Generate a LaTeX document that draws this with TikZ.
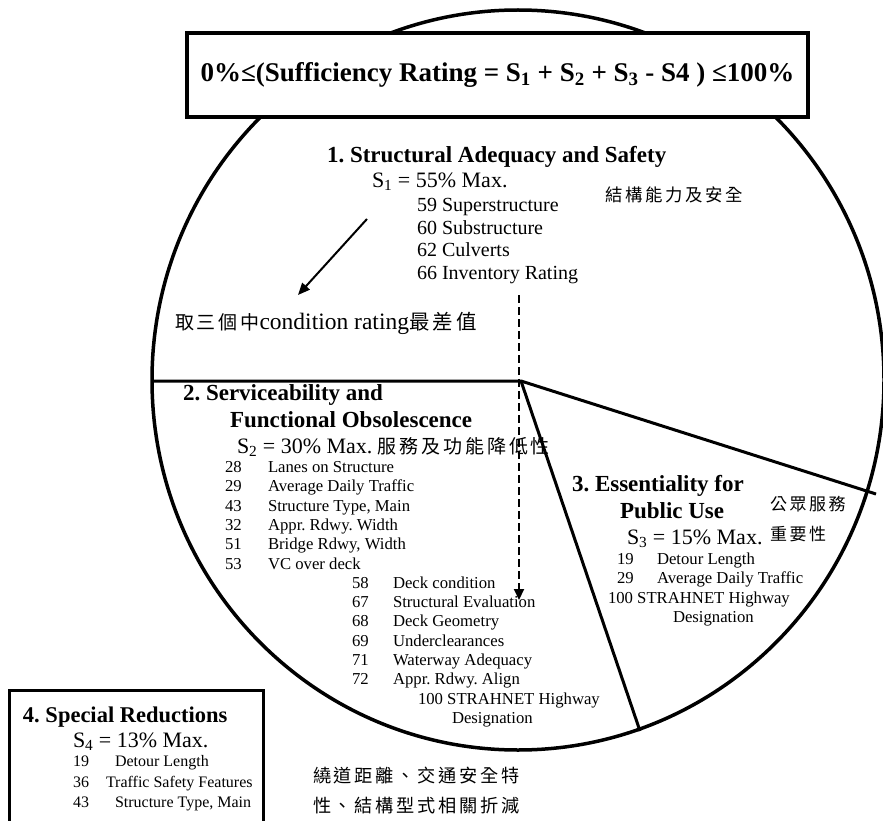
\documentclass[tikz,border=0pt]{standalone}
\usepackage{fontspec}
\setmainfont{Liberation Serif}
\newfontfamily\cjk[LetterSpace=15]{Noto Sans CJK TC}
\usetikzlibrary{arrows.meta}
\newcommand\sbs[1]{\textsubscript{#1}}
\frenchspacing

\begin{document}
\begin{tikzpicture}[x=1pt,y=-1pt,
  lbl/.style={anchor=west,inner sep=0pt,outer sep=0pt,text depth=0pt},
  head/.style={lbl,text height=15.2pt,font=\fontsize{23}{26}\selectfont\bfseries},
  smax/.style={lbl,text height=14.5pt,font=\fontsize{22}{25}\selectfont},
  big/.style={lbl,text height=13.2pt,font=\fontsize{20}{22}\selectfont},
  small/.style={lbl,text height=11pt,font=\fontsize{16.7}{19}\selectfont},
  zh/.style={lbl,text height=13pt,font=\cjk\fontsize{#1}{#1}\selectfont},
  zh/.default=17.4,
  rim/.style={line width=3.5pt},
  divider/.style={line width=3pt},
  pointer/.style={line width=2pt,-{Triangle[length=12pt,width=10pt]}},
  dashpointer/.style={line width=2pt,dash pattern=on 8pt off 4pt,-{Triangle[length=11pt,width=10pt]}},
]
\useasboundingbox (0,0) rectangle (883,821);

% the rating pie
\draw[rim] (518,380) ellipse [x radius=366pt, y radius=370pt];
\coordinate (c) at (521,381);
\coordinate (w) at (152,381);
\coordinate (e) at (876,494);
\coordinate (s) at (640,731);
\draw[divider] (w) -- (c) -- (e);
\draw[divider] (c) -- (s);

% formula box on top
\node[draw, line width=4.5pt, fill=white, minimum width=621pt, minimum height=84pt,
      inner sep=0pt, font=\fontsize{27}{30}\selectfont\bfseries] (sr) at (497.5,75)
  {0\%≤(Sufficiency Rating = S\sbs{1} + S\sbs{2} + S\sbs{3} - S4 ) ≤100\%};

% 1. structural adequacy
\node[head] (t1) at (327,155) {1. Structural Adequacy and Safety};
\node[smax] (m1) at (372,180) {S\sbs{1} = 55\% Max.};
\node[big] (i59) at (417,205) {59 Superstructure};
\node[big] (i60) at (417,227.5) {60 Substructure};
\node[big] (i62) at (417,250) {62 Culverts};
\node[big] (i66) at (417,273) {66 Inventory Rating};
\node[zh] (z1) at (605,195) {結構能力及安全};
\node[lbl, text height=15pt, font=\fontsize{23.5}{26}\selectfont] (worst) at (175,322)
  {{\cjk\fontsize{19}{19}\selectfont 取三個中}condition rating{\cjk\fontsize{20.5}{20}\selectfont 最差值}};

\coordinate (a0) at (367,219);
\coordinate (a1) at (298,295);
\draw[pointer] (a0) -- (a1);
\coordinate (d0) at (519,295);
\coordinate (d1) at (519,600);
\draw[dashpointer] (d0) -- (d1);

% 2. serviceability
\node[head] (t2a) at (183,393) {2. Serviceability and};
\node[head] (t2b) at (230,420) {Functional Obsolescence};
\node[smax] (m2) at (237,446) {S\sbs{2} = 30\% Max. {\cjk\fontsize{19}{20}\selectfont 服務及功能降低性}};
\foreach \n/\t [count=\k] in {28/Lanes on Structure, 29/Average Daily Traffic,
    43/{Structure Type, Main}, 32/Appr. Rdwy. Width, 51/{Bridge Rdwy, Width}, 53/VC over deck}{
  \node[small] (na\k) at (225,{467+19.3*(\k-1)}) {\n};
  \node[small] (la\k) at (268,{467+19.3*(\k-1)}) {\t};
}
\foreach \n/\t [count=\k] in {58/Deck condition, 67/Structural Evaluation, 68/Deck Geometry,
    69/Underclearances, 71/Waterway Adequacy, 72/Appr. Rdwy. Align}{
  \node[small] (nb\k) at (352,{582.8+19.3*(\k-1)}) {\n};
  \node[small] (lb\k) at (393,{582.8+19.3*(\k-1)}) {\t};
}
\node[small] (hw2) at (418,698.6) {100 STRAHNET Highway};
\node[small] (ds2) at (452,718) {Designation};

% 3. essentiality
\node[head] (t3a) at (572,484) {3. Essentiality for};
\node[head] (t3b) at (620,511) {Public Use};
\node[zh=17] (z3a) at (770,504) {公眾服務};
\node[zh=17] (z3b) at (770,534) {重要性};
\node[smax] (m3) at (627,537) {S\sbs{3} = 15\% Max.};
\node[small] (n31) at (617,559) {19};
\node[small] (l31) at (657,559) {Detour Length};
\node[small] (n32) at (617,578) {29};
\node[small] (l32) at (657,578) {Average Daily Traffic};
\node[small] (hw3) at (608,598) {100 STRAHNET Highway};
\node[small] (ds3) at (673,617) {Designation};

% 4. special reductions
\node[draw, line width=3pt, anchor=north west, minimum width=254pt, minimum height=170pt,
      inner sep=0pt] (rbox) at (8,689) {};
\node[head, font=\fontsize{22.5}{26}\selectfont\bfseries] (t4) at (23,715) {4. Special Reductions};
\node[smax] (m4) at (73,740) {S\sbs{4} = 13\% Max.};
\node[small, font=\fontsize{16}{19}\selectfont] (n41) at (73,761) {19};
\node[small, font=\fontsize{16}{19}\selectfont] (l41) at (115,761) {Detour Length};
\node[small, font=\fontsize{16}{19}\selectfont] (n42) at (73,782) {36};
\node[small, font=\fontsize{16}{19}\selectfont] (l42) at (106,782) {Traffic Safety Features};
\node[small, font=\fontsize{16}{19}\selectfont] (n43) at (73,802) {43};
\node[small, font=\fontsize{16}{19}\selectfont] (l43) at (115,802) {Structure Type, Main};
\node[zh=18.2] (z4a) at (313,776) {繞道距離、交通安全特};
\node[zh=18.2] (z4b) at (313,806) {性、結構型式相關折減};
\end{tikzpicture}
\end{document}
